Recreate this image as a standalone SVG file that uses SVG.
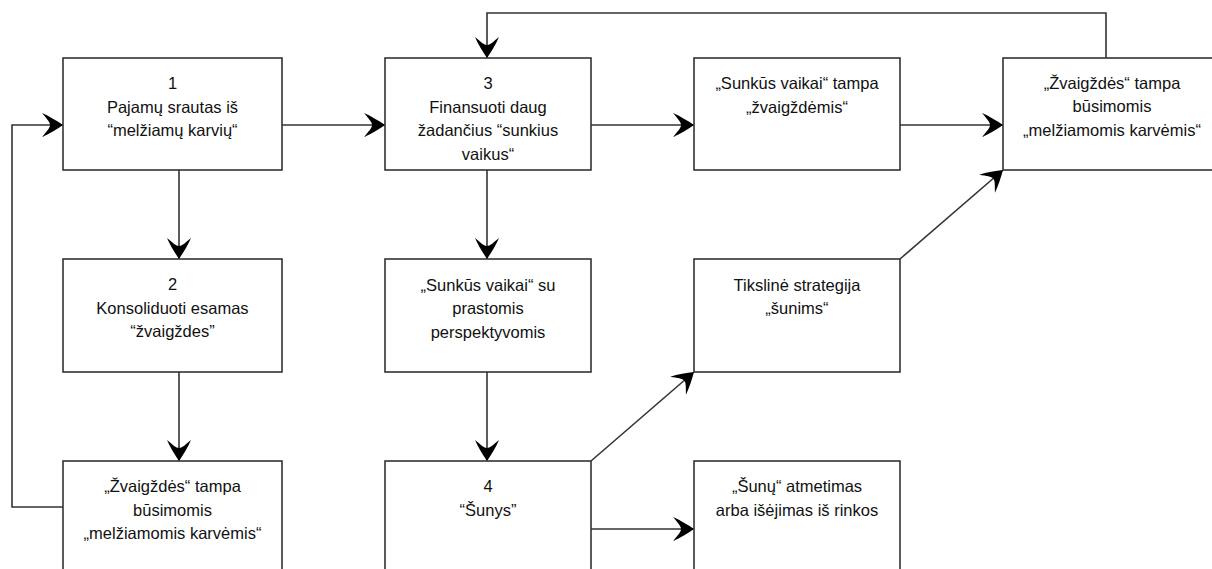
<svg xmlns="http://www.w3.org/2000/svg" width="1212" height="569" viewBox="0 0 1212 569">
  <style>
    .box { fill: #ffffff; stroke: #333333; stroke-width: 1.6; }
    .lbl { font-family: "Liberation Sans", Arial, sans-serif; font-size: 16.5px; fill: #111111; text-anchor: middle; }
    .wire { fill: none; stroke: #333333; stroke-width: 1.6; }
    .arr { marker-end: url(#head); }
  </style>
  <defs>
    <marker id="head" viewBox="-22 -13 24 26" refX="0" refY="0" markerWidth="24" markerHeight="26" markerUnits="userSpaceOnUse" orient="auto">
      <path d="M0,0 C-6,-4 -14,-9 -21,-12 C-16,-6 -13,-3 -13,0 C-13,3 -16,6 -21,12 C-14,9 -6,4 0,0 Z" fill="#000000"/>
    </marker>
  </defs>

  <rect width="1212" height="569" fill="#ffffff"/>

  <!-- connectors -->
  <g id="connectors">
    <path class="wire arr" d="M282,125 H385"/>
    <path class="wire arr" d="M591,125 H694"/>
    <path class="wire arr" d="M900,125 H1003"/>
    <path class="wire arr" d="M1106,58 V13 H487 V58"/>
    <path class="wire arr" d="M179,170 V259"/>
    <path class="wire arr" d="M179,372 V461"/>
    <path class="wire arr" d="M63,507 H12 V125 H63"/>
    <path class="wire arr" d="M487,170 V259"/>
    <path class="wire arr" d="M487,372 V461"/>
    <path class="wire arr" d="M591,461 L694,372"/>
    <path class="wire arr" d="M591,529 H694"/>
    <path class="wire arr" d="M900,259 L1003,170"/>
  </g>

  <g id="n1">
    <rect class="box" x="63" y="58" width="219" height="112"/>
    <text class="lbl" x="172.5" y="89">1</text>
    <text class="lbl" x="172.5" y="112.5">Pajamų srautas iš</text>
    <text class="lbl" x="172.5" y="136">“melžiamų karvių“</text>
  </g>

  <g id="n2">
    <rect class="box" x="63" y="259" width="219" height="113"/>
    <text class="lbl" x="172.5" y="290">2</text>
    <text class="lbl" x="172.5" y="313.5">Konsoliduoti esamas</text>
    <text class="lbl" x="172.5" y="337">“žvaigždes”</text>
  </g>

  <g id="n2b">
    <rect class="box" x="63" y="461" width="219" height="120"/>
    <text class="lbl" x="172.5" y="492">„Žvaigždės“ tampa</text>
    <text class="lbl" x="172.5" y="515.5">būsimomis</text>
    <text class="lbl" x="172.5" y="539">„melžiamomis karvėmis“</text>
  </g>

  <g id="n3">
    <rect class="box" x="385" y="58" width="206" height="112"/>
    <text class="lbl" x="488" y="89">3</text>
    <text class="lbl" x="488" y="112.5">Finansuoti daug</text>
    <text class="lbl" x="488" y="136">žadančius “sunkius</text>
    <text class="lbl" x="488" y="159.5">vaikus“</text>
  </g>

  <g id="n3b">
    <rect class="box" x="385" y="259" width="206" height="113"/>
    <text class="lbl" x="488" y="291">„Sunkūs vaikai“ su</text>
    <text class="lbl" x="488" y="314">prastomis</text>
    <text class="lbl" x="488" y="337.5">perspektyvomis</text>
  </g>

  <g id="n4">
    <rect class="box" x="385" y="461" width="206" height="120"/>
    <text class="lbl" x="488" y="492">4</text>
    <text class="lbl" x="488" y="515.5">“Šunys”</text>
  </g>

  <g id="n5">
    <rect class="box" x="694" y="58" width="206" height="112"/>
    <text class="lbl" x="797" y="89">„Sunkūs vaikai“ tampa</text>
    <text class="lbl" x="797" y="112.5">„žvaigždėmis“</text>
  </g>

  <g id="n6">
    <rect class="box" x="694" y="259" width="206" height="113"/>
    <text class="lbl" x="797" y="291">Tikslinė strategija</text>
    <text class="lbl" x="797" y="314">„šunims“</text>
  </g>

  <g id="n7">
    <rect class="box" x="694" y="461" width="206" height="120"/>
    <text class="lbl" x="797" y="492">„Šunų“ atmetimas</text>
    <text class="lbl" x="797" y="515.5">arba išėjimas iš rinkos</text>
  </g>

  <g id="n8">
    <rect class="box" x="1003" y="58" width="219" height="112"/>
    <text class="lbl" x="1112" y="89">„Žvaigždės“ tampa</text>
    <text class="lbl" x="1112" y="112">būsimomis</text>
    <text class="lbl" x="1112" y="135.5">„melžiamomis karvėmis“</text>
  </g>
</svg>
